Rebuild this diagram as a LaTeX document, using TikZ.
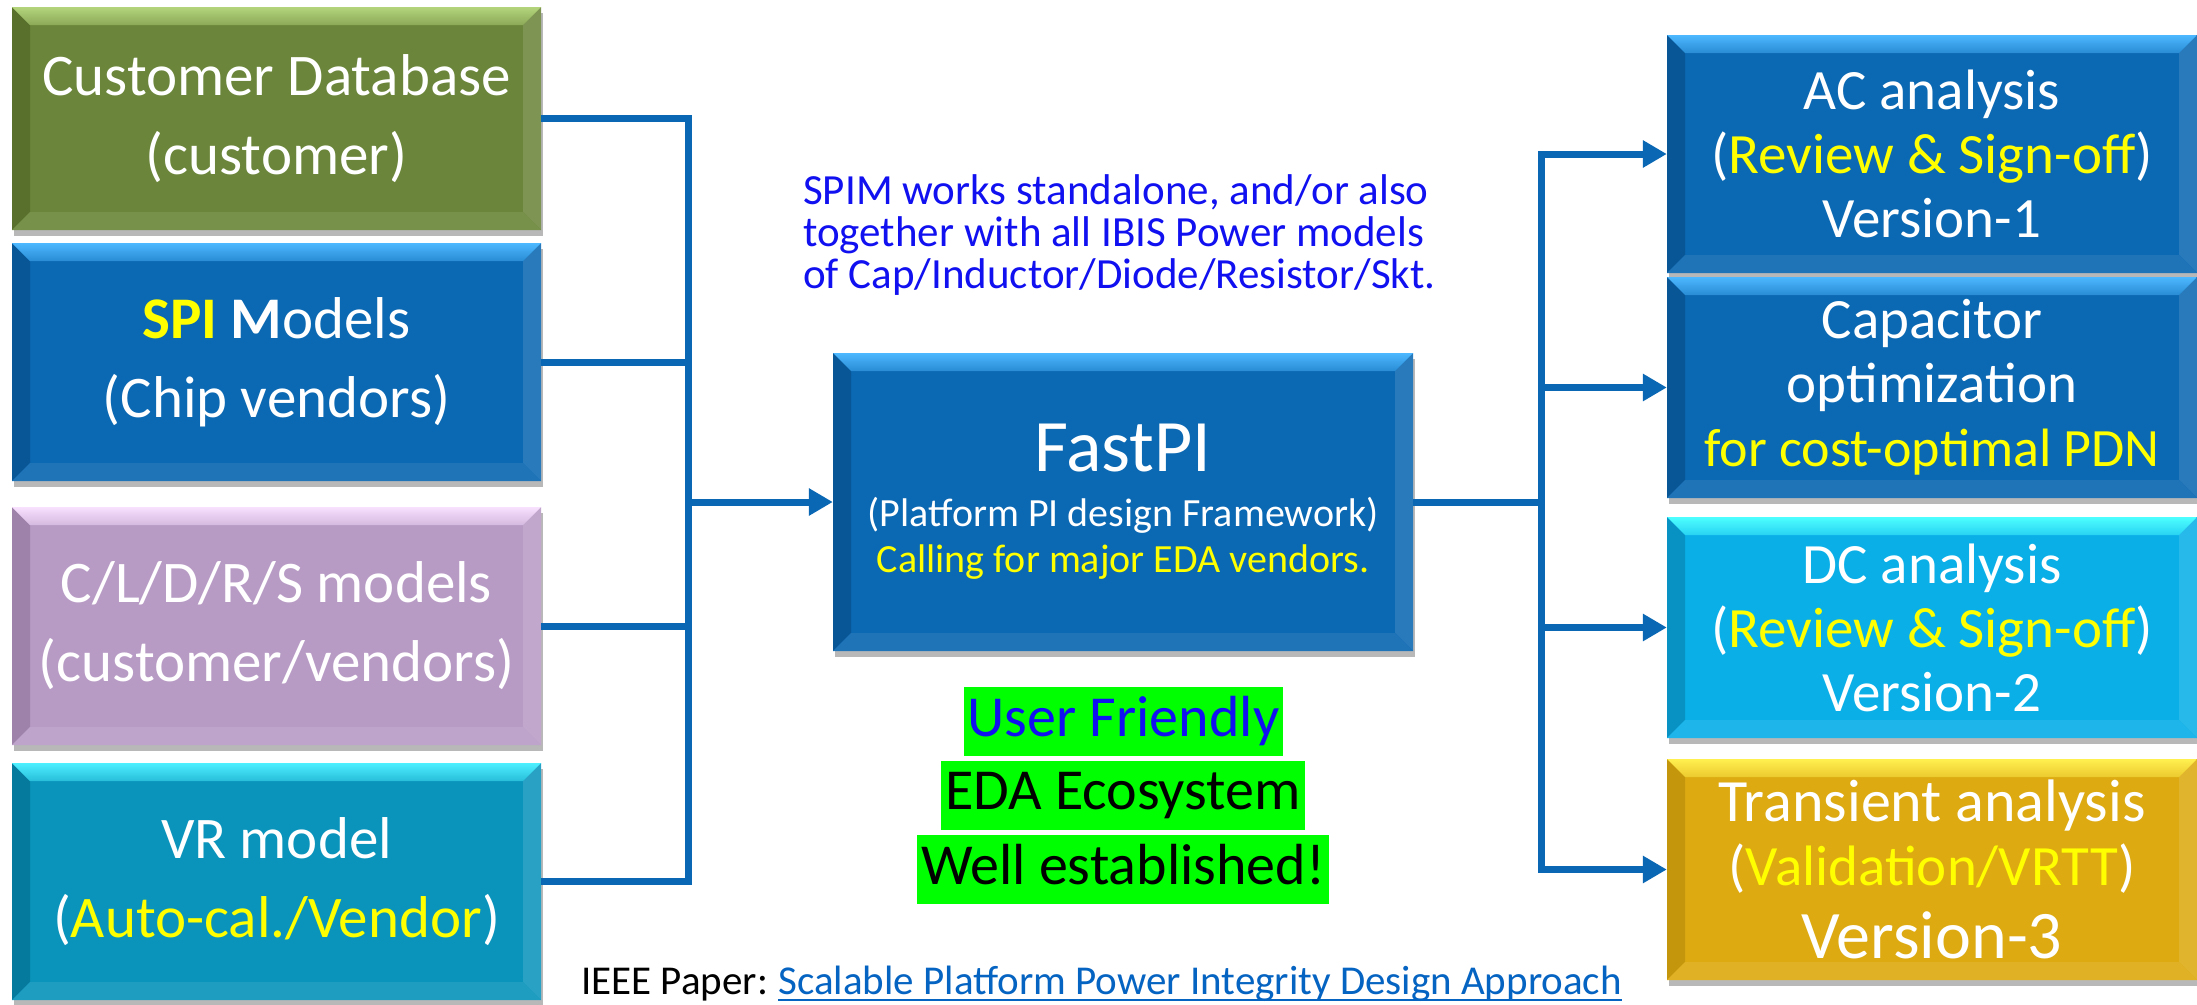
\documentclass[tikz,border=0pt]{standalone}
\usepackage{fontspec}
\setmainfont{Carlito}
\usetikzlibrary{arrows.meta,shadows}
\definecolor{cblue}{RGB}{10,103,180}
\definecolor{bmain}{RGB}{11,104,178}
\definecolor{blt}{RGB}{77,184,255}
\definecolor{bdk}{RGB}{8,86,150}
\definecolor{omain}{RGB}{107,134,58}
\definecolor{olt}{RGB}{180,212,124}
\definecolor{odk}{RGB}{88,112,44}
\definecolor{lmain}{RGB}{184,155,197}
\definecolor{llt}{RGB}{248,224,255}
\definecolor{ldk}{RGB}{158,130,170}
\definecolor{tmain}{RGB}{10,148,188}
\definecolor{tlt}{RGB}{77,240,255}
\definecolor{tdk}{RGB}{6,122,156}
\definecolor{dmain}{RGB}{10,175,232}
\definecolor{dlt}{RGB}{77,255,255}
\definecolor{ddk}{RGB}{8,146,196}
\definecolor{gmain}{RGB}{221,170,18}
\definecolor{glt}{RGB}{255,240,80}
\definecolor{gdk}{RGB}{196,150,12}
\definecolor{hlgreen}{RGB}{0,255,0}
\definecolor{noteblue}{RGB}{16,16,240}
\definecolor{linkblue}{RGB}{5,99,193}
\definecolor{tyellow}{RGB}{255,255,0}
\newcommand\fsLeft{\fontsize{59pt}{79pt}\selectfont}
\newcommand\fsRight{\fontsize{57pt}{64pt}\selectfont}
\newcommand\yel[1]{{\color{tyellow}#1}}
\tikzset{
  bevbox/.style n args={3}{
    draw=none, fill=#1, inner sep=0pt, text=white, align=center,
    drop shadow={shadow xshift=2pt, shadow yshift=-6pt, fill=black, opacity=0.28},
    path picture={
      \fill[#3] (path picture bounding box.north west)
        -- ([shift={(18pt,-18pt)}]path picture bounding box.north west)
        -- ([shift={(18pt,18pt)}]path picture bounding box.south west)
        -- (path picture bounding box.south west) -- cycle;
      \fill[#1!88!white] (path picture bounding box.north east)
        -- ([shift={(-18pt,-18pt)}]path picture bounding box.north east)
        -- ([shift={(-18pt,18pt)}]path picture bounding box.south east)
        -- (path picture bounding box.south east) -- cycle;
      \fill[#1!92!white] (path picture bounding box.south west)
        -- ([shift={(18pt,18pt)}]path picture bounding box.south west)
        -- ([shift={(-18pt,18pt)}]path picture bounding box.south east)
        -- (path picture bounding box.south east) -- cycle;
      \shade[top color=#2, bottom color=#1!55!#2] (path picture bounding box.north west)
        -- (path picture bounding box.north east)
        -- ([shift={(-18pt,-18pt)}]path picture bounding box.north east)
        -- ([shift={(18pt,-18pt)}]path picture bounding box.north west) -- cycle;
    }
  },
  leftbox/.style={minimum width=529pt, font=\fsLeft},
  rightbox/.style={minimum width=530pt, font=\fsRight},
  conn/.style={draw=cblue, line width=7pt},
  arr/.style={conn, -{Triangle[length=24pt,width=26pt]}},
  hl/.style={fill=hlgreen, inner xsep=4pt, inner ysep=0pt, minimum height=69pt,
    text height=42pt, text depth=13pt, font=\fontsize{58pt}{64pt}\selectfont},
}
\begin{document}
\begin{tikzpicture}[x=1pt,y=-1pt]
\fill[white] (0,0) rectangle (2197,1004);
\useasboundingbox (0,0) rectangle (2197,1004);

% left inputs
\node[bevbox={omain}{olt}{odk}, leftbox, minimum height=223pt] (cust) at (276.5,118.5)
  {Customer Database\\(customer)};
\node[bevbox={bmain}{blt}{bdk}, leftbox, minimum height=238pt] (spi) at (276.5,362)
  {{\bfseries\color{tyellow}SPI} {\bfseries M}odels\\(Chip vendors)};
\node[bevbox={lmain}{llt}{ldk}, leftbox, minimum height=238pt] (cldrs) at (276.5,626)
  {C/L/D/R/S models\\(customer/vendors)};
\node[bevbox={tmain}{tlt}{tdk}, leftbox, minimum height=237pt] (vr) at (276.5,881.5)
  {VR model\\(\yel{Auto-cal./Vendor})};

% centre
\node[bevbox={bmain}{blt}{bdk}, minimum width=580pt, minimum height=298pt,
  font=\fontsize{40pt}{46pt}\selectfont] (fast) at (1123,502)
  {{\fontsize{74pt}{74pt}\selectfont FastPI}\\[9pt](Platform PI design Framework)\\\yel{Calling for major EDA vendors.}};

% right outputs
\node[bevbox={bmain}{blt}{bdk}, rightbox, minimum height=238pt] (ac) at (1932,154)
  {AC analysis\\(\yel{Review \& Sign-off})\\Version-1};
\node[bevbox={bmain}{blt}{bdk}, rightbox, minimum height=221pt] (cap) at (1932,387.5)
  {Capacitor\\optimization\\{\fontsize{54pt}{60pt}\selectfont\yel{for cost-optimal PDN}}};
\node[bevbox={dmain}{dlt}{ddk}, rightbox, minimum height=221pt] (dc) at (1932,627.5)
  {DC analysis\\(\yel{Review \& Sign-off})\\Version-2};
\node[bevbox={gmain}{glt}{gdk}, rightbox, minimum height=221pt] (tr) at (1932,869.5)
  {{\fontsize{60pt}{64pt}\selectfont Transient analysis}\\(\yel{Validation/VRTT})\\[9pt]{\fontsize{68pt}{70pt}\selectfont Version-3}};

% connectors
\coordinate (lb) at (688,502);
\coordinate (rb) at (1541,502);
\draw[conn] (cust.east) -| (lb);
\draw[conn] (spi.east) -| (lb);
\draw[conn] (cldrs.east) -| (lb);
\draw[conn] (vr.east) -| (lb);
\draw[arr] (lb) -- (fast.west);
\draw[conn] (fast.east) -- (rb);
\draw[arr] (rb) |- (ac.west);
\draw[arr] (rb) |- (cap.west);
\draw[arr] (rb) |- (dc.west);
\draw[arr] (rb) |- (tr.west);

% note
\node[anchor=north west, inner sep=0pt, align=left, text=noteblue,
  font=\fontsize{43pt}{42pt}\selectfont] (note) at (803,174)
  {SPIM works standalone, and/or also\\together with all IBIS Power models\\of Cap/Inductor/Diode/Resistor/Skt.};

% highlights
\node[hl, text=noteblue] (uf) at (1123.5,721.5) {User Friendly};
\node[hl, text=black] (eda) at (1123,795) {EDA Ecosystem};
\node[hl, text=black] (well) at (1123,869.5) {Well established!};

% reference
\node[anchor=base west, inner sep=0pt, font=\fontsize{41pt}{44pt}\selectfont] (paper) at (581,994) {IEEE Paper:};
\node[anchor=base west, inner sep=0pt, text=linkblue, font=\fontsize{41pt}{44pt}\selectfont] (link)
  at ([xshift=10pt]paper.base east) {Scalable Platform Power Integrity Design Approach};
\draw[linkblue, line width=2.5pt] ([yshift=-6pt]link.base west) -- ([yshift=-6pt]link.base east);
\end{tikzpicture}
\end{document}
